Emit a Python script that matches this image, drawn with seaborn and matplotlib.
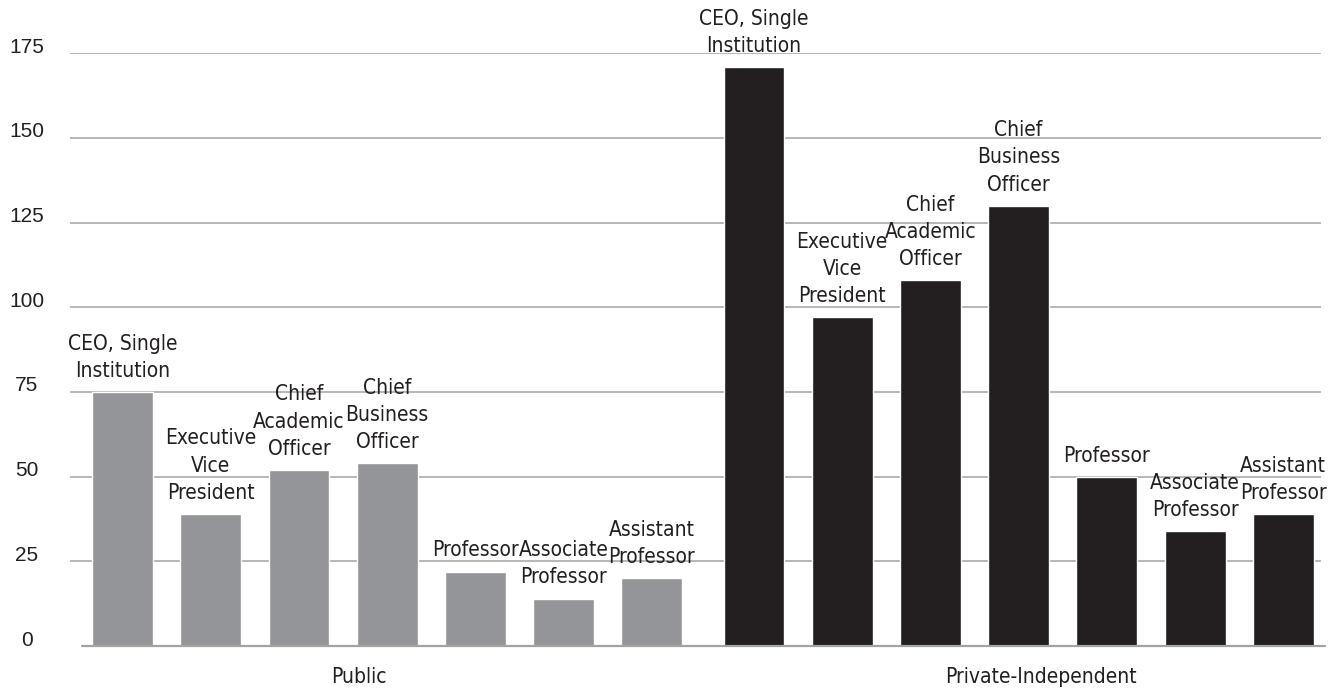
"""Salary ratios by position, public vs private-independent institutions."""
import matplotlib
matplotlib.use("Agg")
import matplotlib.pyplot as plt
import matplotlib.transforms as mtransforms
import numpy as np
import pandas as pd
import seaborn as sns

positions = [
    "CEO, Single\nInstitution",
    "Executive\nVice\nPresident",
    "Chief\nAcademic\nOfficer",
    "Chief\nBusiness\nOfficer",
    "Professor",
    "Associate\nProfessor",
    "Assistant\nProfessor",
]
sectors = ["Public", "Private-Independent"]
public_values = [75, 39, 52, 54, 22, 14, 20]
private_values = [171, 97, 108, 130, 50, 34, 39]
y_ticks = [0, 25, 50, 75, 100, 125, 150, 175]

sector_colors = {"Public": "#939598", "Private-Independent": "#231f20"}
text_color = "#231f20"
grid_color = "#a3a3a3"

# x slots: one per bar, with a small extra gap between the two groups
group_gap = 0.157
slots = np.concatenate([np.arange(7), np.arange(7) + 7 + group_gap])

df = pd.DataFrame({
    "slot": slots,
    "value": public_values + private_values,
    "sector": [sectors[0]] * 7 + [sectors[1]] * 7,
    "position": positions * 2,
})

sns.set_theme(style="white")
plt.rcParams["font.family"] = ["Liberation Sans", "DejaVu Sans"]
# condensed face for the category labels
label_font = dict(family="DejaVu Sans", stretch="condensed", size=15)

fig = plt.figure(figsize=(13.44, 6.91), dpi=100)
ax = fig.add_axes([0.0521, 0.0651, 0.9308, 0.8578])

# gridlines first so the bars sit on top
for t in y_ticks[1:]:
    ax.axhline(t, color=grid_color, linewidth=1.1, zorder=0)
ax.axhline(0, xmin=0.0096, xmax=1.003, color=grid_color, linewidth=1.6,
           zorder=3, clip_on=False)

sns.barplot(data=df, x="slot", y="value", hue="sector",
            palette=sector_colors, native_scale=True, dodge=False,
            width=0.69, legend=False, saturation=1, ax=ax, zorder=2)

ax.set_xlim(-0.595, 13 + group_gap + 0.427)
ax.set_ylim(0, 175)

# labels above each bar
for _, row in df.iterrows():
    ax.annotate(row["position"], xy=(row["slot"], row["value"]),
                xytext=(0, 8), textcoords="offset points",
                ha="center", va="bottom", linespacing=1.45,
                color=text_color, **label_font)

# group labels under the axis
trans = mtransforms.blended_transform_factory(ax.transAxes, ax.transAxes)
ax.text(0.231, -0.052, sectors[0], transform=trans, ha="center", va="center",
        color=text_color, **label_font)
ax.text(0.776, -0.052, sectors[1], transform=trans, ha="center", va="center",
        color=text_color, **label_font)

ax.set_yticks(y_ticks)
ax.set_yticklabels([str(t) for t in y_ticks])
ax.set_xticks([])
ax.tick_params(axis="y", length=0, pad=31, labelsize=15, labelcolor=text_color)
shift = mtransforms.ScaledTranslation(0, 8 / 100, fig.dpi_scale_trans)
for lab in ax.get_yticklabels():
    lab.set_horizontalalignment("center")
    lab.set_transform(lab.get_transform() + shift)

ax.set_xlabel("")
ax.set_ylabel("")
sns.despine(ax=ax, left=True, bottom=True)

fig.savefig("out.png", dpi=100)
